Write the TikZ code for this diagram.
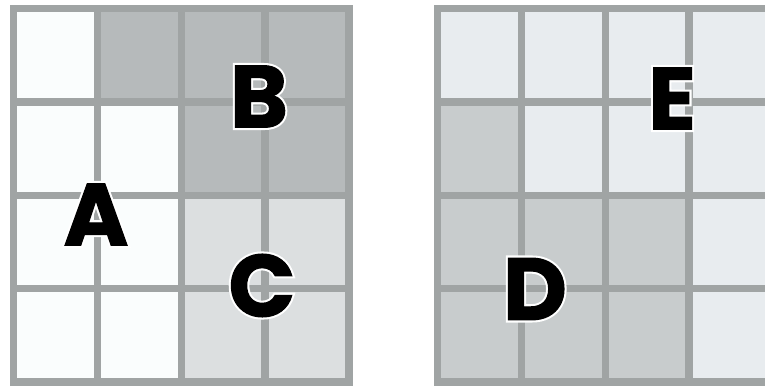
\documentclass[tikz,border=0pt]{standalone}
\usepackage{fontspec}
\usetikzlibrary{positioning}
\newfontfamily\lblfont{Poppins}[BoldFeatures={FakeBold=1.3}]
\newfontfamily\halofont{Poppins}[BoldFeatures={FakeBold=6}]
\newcommand{\haloed}[1]{\rlap{\color{white}\halofont\bfseries #1}#1}
\definecolor{gridgray}{RGB}{160,164,164}
\definecolor{cellA}{RGB}{250,253,253}
\definecolor{cellB}{RGB}{182,186,187}
\definecolor{cellC}{RGB}{220,223,224}
\definecolor{cellD}{RGB}{200,204,205}
\definecolor{cellE}{RGB}{232,236,239}

\begin{document}
\begin{tikzpicture}[
    x=0.75pt, y=-0.75pt,
    gridline/.style={draw=gridgray, line width=5.6pt, line cap=rect},
    lbl/.style={font=\lblfont\bfseries\fontsize{66}{66}\selectfont, inner sep=0pt, text=black}
]
    \useasboundingbox (0,0) rectangle (765,388);
    \clip (0,0) rectangle (765,388);

    % left grid
    \foreach \row [count=\r from 0] in {{cellA,cellB,cellB,cellB},{cellA,cellA,cellB,cellB},{cellA,cellA,cellC,cellC},{cellA,cellA,cellC,cellC}}
        \foreach \c [count=\k from 0] in \row
            \fill[\c] (13.5+83.9*\k, 8.5+93.4*\r) rectangle ++(83.9,93.4);
    \foreach \k in {0,...,4} {
        \draw[gridline] (13.5+83.9*\k, 8.5) -- (13.5+83.9*\k, 382.1);
        \draw[gridline] (13.5, 8.5+93.4*\k) -- (349.1, 8.5+93.4*\k);
    }

    % right grid
    \begin{scope}[shift={(424,0)}]
        \foreach \row [count=\r from 0] in {{cellE,cellE,cellE,cellE},{cellD,cellE,cellE,cellE},{cellD,cellD,cellD,cellE},{cellD,cellD,cellD,cellE}}
            \foreach \c [count=\k from 0] in \row
                \fill[\c] (13.5+83.9*\k, 8.5+93.4*\r) rectangle ++(83.9,93.4);
        \foreach \k in {0,...,4} {
            \draw[gridline] (13.5+83.9*\k, 8.5) -- (13.5+83.9*\k, 382.1);
            \draw[gridline] (13.5, 8.5+93.4*\k) -- (349.1, 8.5+93.4*\k);
        }
    \end{scope}

    \node[lbl] (lblA) at (96,214.5) {\haloed{A}};
    \node[lbl] (lblB) at (259,96.5) {\haloed{B}};
    \node[lbl] (lblC) at (262,285.5) {\haloed{C}};
    \node[lbl] (lblD) at (535,289) {\haloed{D}};
    \node[lbl] (lblE) at (672,98.5) {\haloed{E}};
\end{tikzpicture}
\end{document}
